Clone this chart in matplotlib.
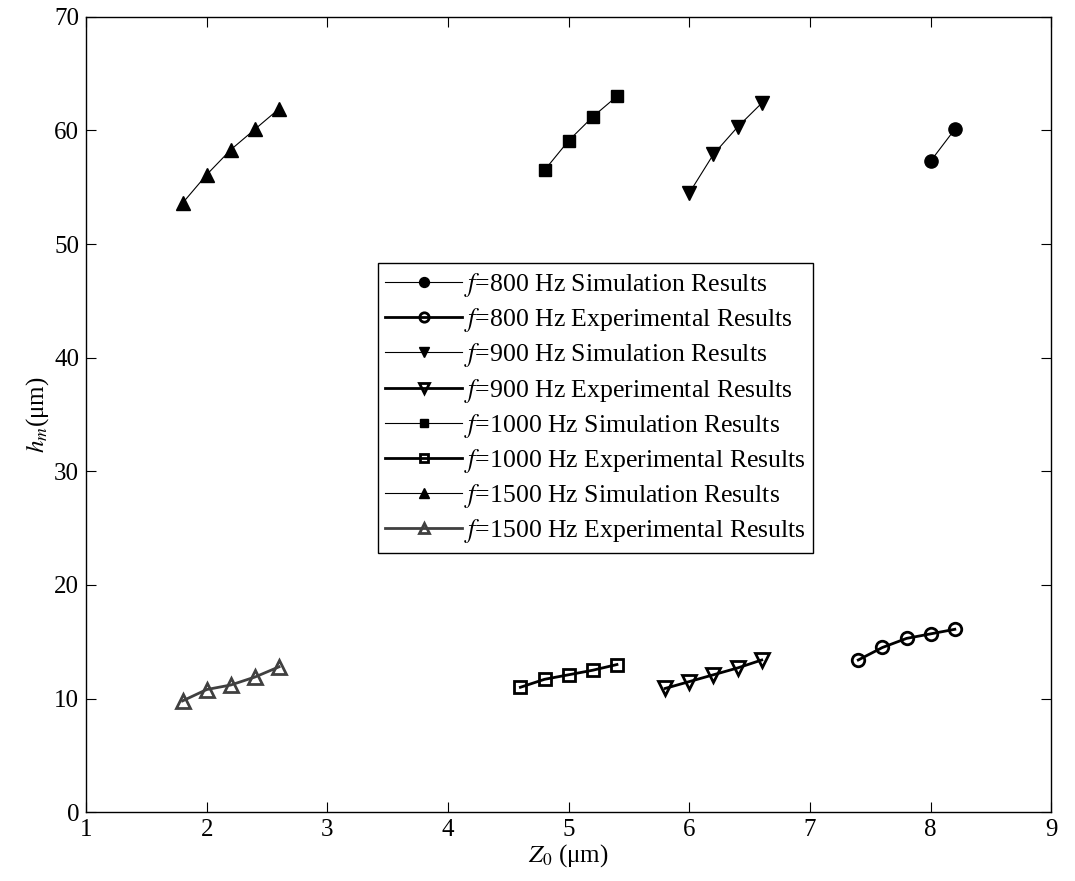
import matplotlib
matplotlib.use('Agg')
import matplotlib.pyplot as plt

plt.rcParams['font.family'] = ['Liberation Serif', 'DejaVu Serif']
plt.rcParams['mathtext.fontset'] = 'stix'

# simulation results
x800s = [8.0, 8.2]
y800s = [57.3, 60.1]
x900s = [6.0, 6.2, 6.4, 6.6]
y900s = [54.5, 57.9, 60.3, 62.4]
x1000s = [4.8, 5.0, 5.2, 5.4]
y1000s = [56.5, 59.1, 61.2, 63.0]
x1500s = [1.8, 2.0, 2.2, 2.4, 2.6]
y1500s = [53.6, 56.1, 58.3, 60.1, 61.9]

# experimental results
x800e = [7.4, 7.6, 7.8, 8.0, 8.2]
y800e = [13.4, 14.5, 15.3, 15.7, 16.1]
x900e = [5.8, 6.0, 6.2, 6.4, 6.6]
y900e = [10.9, 11.5, 12.1, 12.7, 13.4]
x1000e = [4.6, 4.8, 5.0, 5.2, 5.4]
y1000e = [11.0, 11.7, 12.1, 12.5, 13.0]
x1500e = [1.8, 2.0, 2.2, 2.4, 2.6]
y1500e = [9.8, 10.8, 11.2, 11.9, 12.8]

fig = plt.figure(figsize=(10.75, 8.81), dpi=100)
ax = fig.add_axes([0.080, 0.078, 0.898, 0.903])

thin = 0.8
thick = 2.0
ax.plot(x800s, y800s, '-', color='k', lw=thin, marker='o', ms=9.5, label='$f$=800 Hz Simulation Results')
ax.plot(x800e, y800e, '-', color='k', lw=thick, marker='o', ms=9, mfc='none', mew=2, label='$f$=800 Hz Experimental Results')
ax.plot(x900s, y900s, '-', color='k', lw=thin, marker='v', ms=10, label='$f$=900 Hz Simulation Results')
ax.plot(x900e, y900e, '-', color='k', lw=thick, marker='v', ms=10, mfc='none', mew=2, label='$f$=900 Hz Experimental Results')
ax.plot(x1000s, y1000s, '-', color='k', lw=thin, marker='s', ms=8, label='$f$=1000 Hz Simulation Results')
ax.plot(x1000e, y1000e, '-', color='k', lw=thick, marker='s', ms=8, mfc='none', mew=2, label='$f$=1000 Hz Experimental Results')
ax.plot(x1500s, y1500s, '-', color='k', lw=thin, marker='^', ms=10, label='$f$=1500 Hz Simulation Results')
ax.plot(x1500e, y1500e, '-', color='#404040', lw=thick, marker='^', ms=10, mfc='none', mew=2, label='$f$=1500 Hz Experimental Results')

ax.set_xlim(1, 9)
ax.set_ylim(0, 70)
ax.set_xticks(range(1, 10))
ax.set_yticks(range(0, 71, 10))
ax.tick_params(direction='in', labelsize=18, length=7, top=True, right=True, pad=5)
for s in ax.spines.values():
    s.set_linewidth(1.0)

ax.set_xlabel(r'$Z_{\mathit{0}}$ (μm)', fontsize=18, labelpad=1)
ax.set_ylabel(r'$h_m$(μm)', fontsize=18, labelpad=2)

leg = ax.legend(loc='upper left', bbox_to_anchor=(0.302, 0.69), fontsize=18.5,
                frameon=True, fancybox=False, edgecolor='k', framealpha=1,
                handlelength=3.0, handletextpad=0.05, borderpad=0.3, labelspacing=0.28,
                borderaxespad=0, markerscale=0.75)
leg.get_frame().set_linewidth(1.0)

fig.savefig('out.png', dpi=100)
